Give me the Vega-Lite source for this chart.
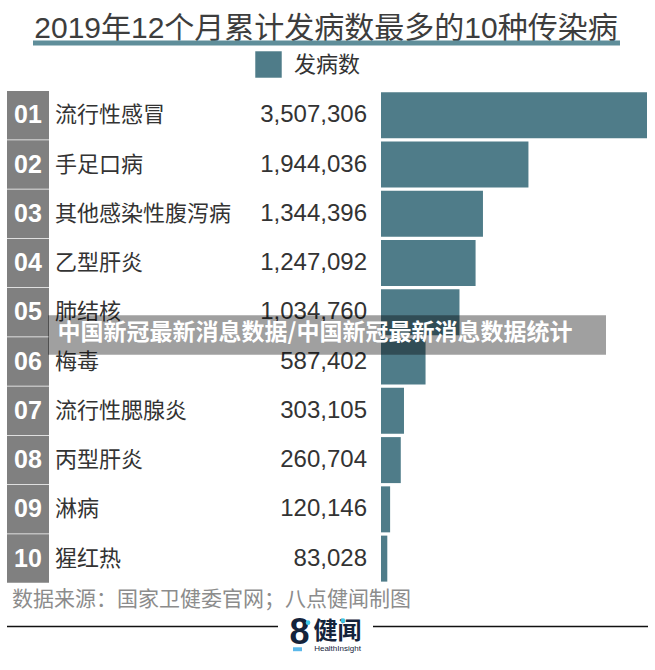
{
  "$schema": "https://vega.github.io/schema/vega-lite/v6.json",
  "width": 655,
  "height": 670,
  "autosize": "none",
  "padding": 0,
  "background": "white",
  "config": {
    "view": {"stroke": null},
    "axis": {"disable": true},
    "font": "Liberation Sans, Noto Sans CJK SC",
    "legend": {
      "orient": "none",
      "legendX": 255,
      "legendY": 51,
      "symbolType": "square",
      "symbolSize": 700,
      "symbolStrokeWidth": 0,
      "symbolOpacity": 1,
      "labelFontSize": 22,
      "labelFont": "Liberation Sans, Noto Sans CJK SC",
      "labelColor": "#333333",
      "labelOffset": 12,
      "title": null
    }
  },
  "data": {
    "values": [
      {"rank": 1, "序号": "01", "病种": "流行性感冒", "发病数": 3507306, "指标": "发病数"},
      {"rank": 2, "序号": "02", "病种": "手足口病", "发病数": 1944036, "指标": "发病数"},
      {"rank": 3, "序号": "03", "病种": "其他感染性腹泻病", "发病数": 1344396, "指标": "发病数"},
      {"rank": 4, "序号": "04", "病种": "乙型肝炎", "发病数": 1247092, "指标": "发病数"},
      {"rank": 5, "序号": "05", "病种": "肺结核", "发病数": 1034760, "指标": "发病数"},
      {"rank": 6, "序号": "06", "病种": "梅毒", "发病数": 587402, "指标": "发病数"},
      {"rank": 7, "序号": "07", "病种": "流行性腮腺炎", "发病数": 303105, "指标": "发病数"},
      {"rank": 8, "序号": "08", "病种": "丙型肝炎", "发病数": 260704, "指标": "发病数"},
      {"rank": 9, "序号": "09", "病种": "淋病", "发病数": 120146, "指标": "发病数"},
      {"rank": 10, "序号": "10", "病种": "猩红热", "发病数": 83028, "指标": "发病数"}
    ]
  },
  "layer": [
    {
      "mark": {"type": "bar", "orient": "horizontal", "size": 46},
      "encoding": {
        "x": {"field": "发病数", "type": "quantitative", "scale": {"domain": [-5023640, 3612797], "nice": false, "zero": false}, "axis": null},
        "y": {"field": "rank", "type": "quantitative", "scale": {"domain": [-1.24, 12.16], "reverse": true, "nice": false, "zero": false}, "axis": null},
        "color": {"field": "指标", "type": "nominal", "scale": {"range": ["#4f7c89"]}}
      }
    },
    {
      "mark": {"type": "bar", "orient": "horizontal", "size": 48.5, "color": "#808080"},
      "encoding": {
        "x": {"datum": -4931342, "type": "quantitative"},
        "x2": {"datum": -4377556},
        "y": {"field": "rank", "type": "quantitative"}
      }
    },
    {
      "mark": {"type": "text", "align": "center", "baseline": "middle", "fontSize": 25, "fontWeight": "bold", "color": "white", "font": "Liberation Sans"},
      "encoding": {
        "x": {"datum": -4654449, "type": "quantitative"},
        "y": {"field": "rank", "type": "quantitative"},
        "text": {"field": "序号"}
      }
    },
    {
      "mark": {"type": "text", "align": "left", "baseline": "middle", "fontSize": 22, "color": "#333333", "font": "Noto Sans CJK SC"},
      "encoding": {
        "x": {"datum": -4298443, "type": "quantitative"},
        "y": {"field": "rank", "type": "quantitative"},
        "text": {"field": "病种"}
      }
    },
    {
      "mark": {"type": "text", "align": "right", "baseline": "middle", "fontSize": 24, "color": "#333333", "font": "Liberation Sans"},
      "encoding": {
        "x": {"datum": -184598, "type": "quantitative"},
        "y": {"field": "rank", "type": "quantitative"},
        "text": {"field": "发病数", "type": "quantitative", "format": ","}
      }
    },
    {
      "data": {"values": [{}]},
      "mark": {"type": "rect", "color": "black", "opacity": 0.373},
      "encoding": {
        "x": {"datum": -4390741, "type": "quantitative"},
        "x2": {"datum": 2966712},
        "y": {"datum": 5.06, "type": "quantitative"},
        "y2": {"datum": 5.86}
      }
    },
    {
      "data": {"values": [{"t": "中国新冠最新消息数据/中国新冠最新消息数据统计"}]},
      "mark": {"type": "text", "align": "center", "baseline": "middle", "fontSize": 23, "fontWeight": "bold", "color": "white", "font": "Noto Sans CJK SC"},
      "encoding": {
        "x": {"datum": -870239, "type": "quantitative"},
        "y": {"datum": 5.42, "type": "quantitative"},
        "text": {"field": "t"}
      }
    },
    {
      "data": {"values": [{"t": "2019年12个月累计发病数最多的10种传染病"}]},
      "mark": {"type": "text", "align": "center", "baseline": "alphabetic", "fontSize": 30, "color": "#3d3d3d", "font": "Liberation Sans, Noto Sans CJK SC"},
      "encoding": {
        "x": {"datum": -725240, "type": "quantitative"},
        "y": {"datum": -0.57, "type": "quantitative"},
        "text": {"field": "t"}
      }
    },
    {
      "data": {"values": [{}]},
      "mark": {"type": "rule", "color": "#5f8e9a", "strokeWidth": 5},
      "encoding": {
        "x": {"datum": -4588522, "type": "quantitative"},
        "x2": {"datum": 3151308},
        "y": {"datum": -0.47, "type": "quantitative"}
      }
    },
    {
      "data": {"values": [{"t": "数据来源：国家卫健委官网；八点健闻制图"}]},
      "mark": {"type": "text", "align": "left", "baseline": "middle", "fontSize": 21, "color": "#8c8c8c", "font": "Noto Sans CJK SC"},
      "encoding": {
        "x": {"datum": -4865415, "type": "quantitative"},
        "y": {"datum": 10.84, "type": "quantitative"},
        "text": {"field": "t"}
      }
    },
    {
      "data": {"values": [{"a": -4931342, "b": -1358119}, {"a": -105486, "b": 3520499}]},
      "mark": {"type": "rule", "color": "#111111", "strokeWidth": 1.5},
      "encoding": {
        "x": {"field": "a", "type": "quantitative"},
        "x2": {"field": "b"},
        "y": {"datum": 11.38, "type": "quantitative"}
      }
    },
    {
      "data": {"values": [{"t": "8"}]},
      "mark": {"type": "text", "align": "center", "baseline": "middle", "fontSize": 36, "fontWeight": "bold", "color": "#14233b", "font": "Liberation Sans"},
      "encoding": {
        "x": {"datum": -1074613, "type": "quantitative"},
        "y": {"datum": 11.52, "type": "quantitative"},
        "text": {"field": "t"}
      }
    },
    {
      "data": {"values": [{"t": "健闻"}]},
      "mark": {"type": "text", "align": "center", "baseline": "middle", "fontSize": 24, "fontWeight": "bold", "color": "#14233b", "font": "Noto Sans CJK SC"},
      "encoding": {
        "x": {"datum": -573567, "type": "quantitative"},
        "y": {"datum": 11.48, "type": "quantitative"},
        "text": {"field": "t"}
      }
    },
    {
      "data": {"values": [{"a": -962537, "b": 11.30}, {"a": -500887, "b": 11.26}]},
      "mark": {"type": "point", "filled": true, "color": "#3ec6e8", "size": 22, "opacity": 1},
      "encoding": {
        "x": {"field": "a", "type": "quantitative"},
        "y": {"field": "b", "type": "quantitative"}
      }
    },
    {
      "data": {"values": [{"t": "HealthInsight"}]},
      "mark": {"type": "text", "align": "center", "baseline": "middle", "fontSize": 8, "color": "#14233b", "font": "Liberation Sans"},
      "encoding": {
        "x": {"datum": -573567, "type": "quantitative"},
        "y": {"datum": 11.84, "type": "quantitative"},
        "text": {"field": "t"}
      }
    },
    {
      "data": {"values": [{}]},
      "mark": {"type": "rect", "color": "#5bb8ea"},
      "encoding": {
        "x": {"datum": -1160288, "type": "quantitative"},
        "x2": {"datum": -1041620},
        "y": {"datum": 11.80, "type": "quantitative"},
        "y2": {"datum": 11.88}
      }
    }
  ]
}
